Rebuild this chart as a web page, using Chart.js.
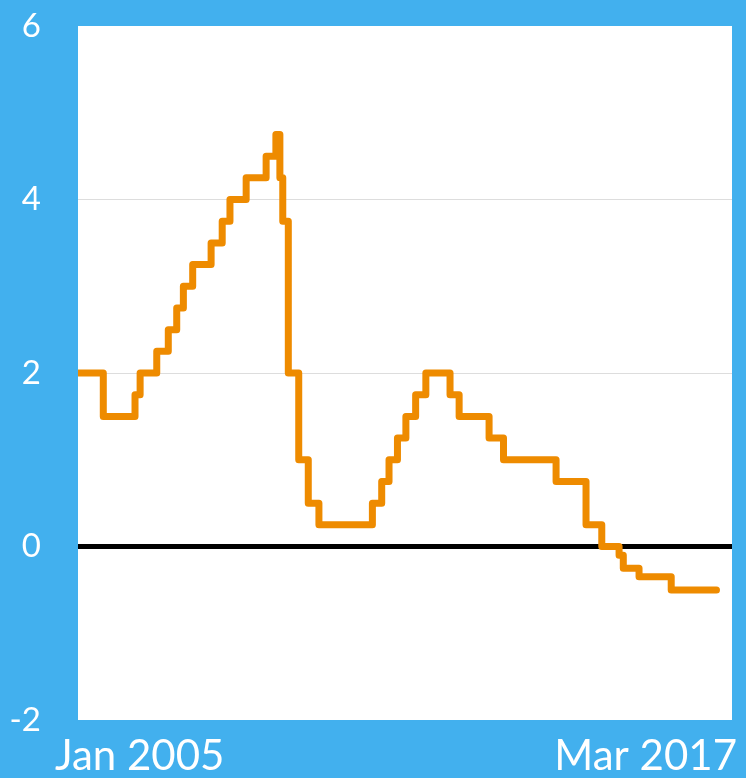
<!DOCTYPE html>
<html>
<head>
<meta charset="utf-8">
<script src="https://cdn.jsdelivr.net/npm/chart.js@4"></script>
<style>
  body { margin: 0; background: #42b0ee; }
  canvas { display: block; }
</style>
</head>
<body>
<canvas id="rateChart" width="746" height="778"></canvas>
<script>
// months since Jan 2005 at which the rate changes
const changeMonths = [0, 5.7, 12.85, 14.0, 17.75, 20.35, 22.25, 23.75, 25.85, 30.0, 32.5, 34.25,
    37.9, 42.4, 44.6, 45.5, 46.15, 47.4, 49.75, 51.9, 54.3, 66.35, 68.45, 70.1, 72.0, 73.9,
    76.1, 78.4, 83.85, 85.9, 92.65, 95.9, 107.75, 114.5, 118.05, 121.95, 122.9, 126.45, 133.7, 143.9];
const rates = [2.0, 1.5, 1.75, 2.0, 2.25, 2.5, 2.75, 3.0, 3.25, 3.5, 3.75, 4.0,
    4.25, 4.5, 4.75, 4.25, 3.75, 2.0, 1.0, 0.5, 0.25, 0.5, 0.75, 1.0, 1.25, 1.5,
    1.75, 2.0, 1.75, 1.5, 1.25, 1.0, 0.75, 0.25, 0.0, -0.10, -0.25, -0.35, -0.50, -0.50];
const axisLabels = ['Jan 2005', 'Mar 2017'];
const axisMonths = [0, 147.4];
const yTicks = [-2, 0, 2, 4, 6];

const points = changeMonths.map((m, i) => ({ x: m, y: rates[i] }));

const FONT = 'Lato, "Open Sans", sans-serif';

const plotBackground = {
    id: 'plotBackground',
    beforeDraw(chart) {
        const { ctx, chartArea } = chart;
        ctx.save();
        ctx.fillStyle = '#ffffff';
        ctx.fillRect(chartArea.left, chartArea.top, chartArea.right - chartArea.left, chartArea.bottom - chartArea.top);
        ctx.restore();
    },
    afterDraw(chart) {
        const { ctx, chartArea } = chart;
        ctx.save();
        ctx.fillStyle = '#ffffff';
        ctx.font = '400 42px ' + FONT;
        ctx.textBaseline = 'alphabetic';
        ctx.textAlign = 'left';
        ctx.fillText(axisLabels[0], chartArea.left - 23, 770);
        ctx.textAlign = 'right';
        ctx.fillText(axisLabels[1], chartArea.right + 5, 770);
        ctx.restore();
    }
};

new Chart(document.getElementById('rateChart').getContext('2d'), {
    type: 'line',
    data: {
        datasets: [{
            data: points,
            borderColor: '#ee8b00',
            borderWidth: 7,
            stepped: true,
            pointRadius: 0,
            borderCapStyle: 'round',
            borderJoinStyle: 'round',
            fill: false
        }]
    },
    options: {
        responsive: false,
        animation: false,
        devicePixelRatio: 1,
        layout: { padding: { left: 0, top: 26, right: 14, bottom: 58 } },
        plugins: {
            legend: { display: false },
            tooltip: { enabled: false }
        },
        scales: {
            x: {
                type: 'linear',
                min: axisMonths[0],
                max: axisMonths[1],
                display: false
            },
            y: {
                min: yTicks[0],
                max: yTicks[yTicks.length - 1],
                afterBuildTicks: (scale) => { scale.ticks = yTicks.map(v => ({ value: v })); },
                afterFit: (scale) => {
                    scale.width = 78;
                    scale.paddingTop = 0;
                    scale.paddingBottom = 0;
                },
                border: { display: false },
                grid: {
                    drawTicks: false,
                    color: (c) => {
                        const v = c.tick.value;
                        if (v === 0) return '#000000';
                        if (v === yTicks[0] || v === yTicks[yTicks.length - 1]) return 'rgba(0,0,0,0)';
                        return '#dddddd';
                    },
                    lineWidth: (c) => c.tick.value === 0 ? 5 : 1
                },
                ticks: {
                    color: '#ffffff',
                    padding: 37,
                    font: { family: FONT, size: 33, weight: '400' }
                }
            }
        }
    },
    plugins: [plotBackground]
});
</script>
</body>
</html>
